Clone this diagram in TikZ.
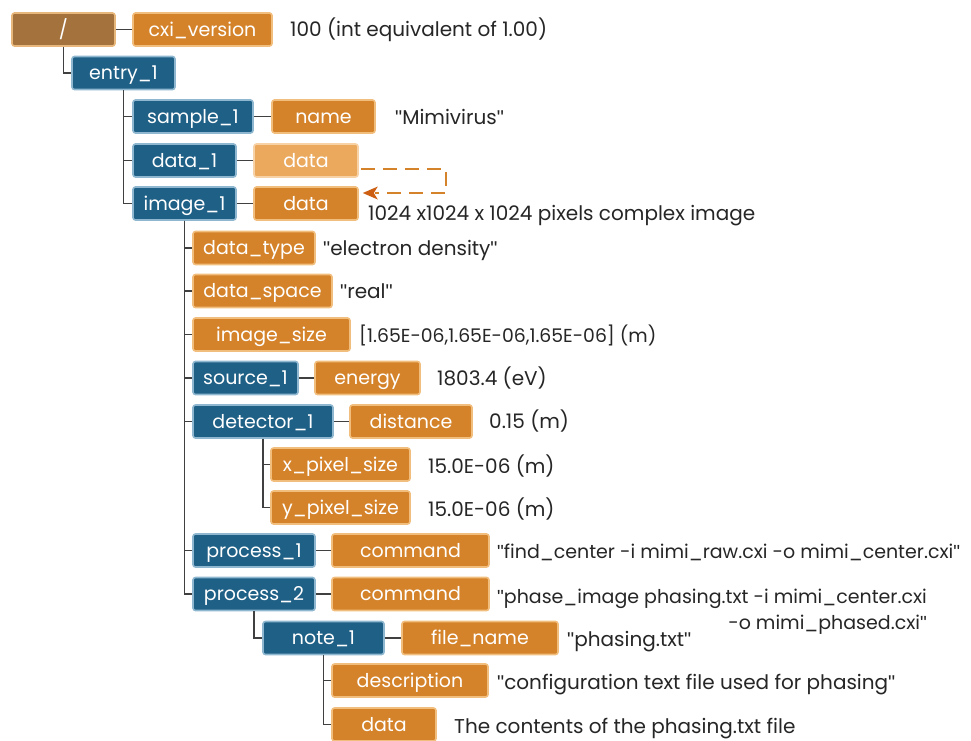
\documentclass[tikz,border=0pt]{standalone}
\usepackage{fontspec}
\setmainfont{Poppins}[Ligatures=ResetAll]
\newfontfamily\quotefont{Liberation Sans}
\newcommand{\dq}{{\quotefont"}}
\usetikzlibrary{arrows.meta,calc}
\definecolor{brownfill}{HTML}{A3723D}
\definecolor{brownedge}{HTML}{E8B77C}
\definecolor{orfill}{HTML}{D4832A}
\definecolor{oredge}{HTML}{F2BE7E}
\definecolor{lofill}{HTML}{EBA95E}
\definecolor{loedge}{HTML}{F6D2A6}
\definecolor{blfill}{HTML}{1F6086}
\definecolor{bledge}{HTML}{8FB7CF}
\definecolor{treeline}{HTML}{404040}
\definecolor{dashcol}{HTML}{D4832A}
\definecolor{arrowcol}{HTML}{CC5F12}
\tikzset{
  box/.style={rounded corners=2.5pt, line width=1.6pt, minimum height=33pt,
    inner sep=0pt, text height=17pt, text depth=4pt, text=white,
    font=\fontsize{19}{22}\selectfont},
  rootbox/.style={box, fill=brownfill, draw=brownedge},
  obox/.style={box, fill=orfill, draw=oredge},
  lobox/.style={box, fill=lofill, draw=loedge},
  bbox/.style={box, fill=blfill, draw=bledge},
  val/.style={anchor=base west, inner sep=0pt, text=black!85,
    font=\fontsize{20}{26}\selectfont},
  vsize/.style={font=\fontsize{#1}{26}\selectfont},
  tree/.style={draw=treeline, line width=1.6pt},
  dasharrow/.style={draw=dashcol, line width=2pt, dash pattern=on 14pt off 8pt}
}
\begin{document}
\begin{tikzpicture}[x=1pt,y=-1pt]
\useasboundingbox (0,0) rectangle (971,740);
\fill[white] (0,0) rectangle (971,740);
% nodes
\node[rootbox, minimum width=103] (root) at (63.5,29.5) {/};
\node[obox, minimum width=139] (cxi) at (202.5,29.5) {cxi\_version};
\node[bbox, minimum width=103] (entry) at (123.5,73) {entry\_1};
\node[bbox, minimum width=120] (sample) at (193,116.5) {sample\_1};
\node[obox, minimum width=103] (name) at (323.5,116.5) {name};
\node[bbox, minimum width=103] (data1) at (184.5,160.5) {data\_1};
\node[lobox, minimum width=104] (datal) at (306,160.5) {data};
\node[bbox, minimum width=103] (image) at (184.5,203.5) {image\_1};
\node[obox, minimum width=104] (datai) at (306,203.5) {data};
\node[obox, minimum width=122] (dtype) at (254,248) {data\_type};
\node[obox, minimum width=139] (dspace) at (262.5,291) {data\_space};
\node[obox, minimum width=157] (isize) at (271.5,334.5) {image\_size};
\node[bbox, minimum width=105] (source) at (245.5,378) {source\_1};
\node[obox, minimum width=105] (energy) at (367.5,378) {energy};
\node[bbox, minimum width=140] (det) at (263,421.5) {detector\_1};
\node[obox, minimum width=122] (dist) at (411,421.5) {distance};
\node[obox, minimum width=139] (xpix) at (340.5,464.5) {x\_pixel\_size};
\node[obox, minimum width=139] (ypix) at (340.5,507.5) {y\_pixel\_size};
\node[bbox, minimum width=122] (proc1) at (254,550.5) {process\_1};
\node[obox, minimum width=157] (cmd1) at (410.5,550.5) {command};
\node[bbox, minimum width=122] (proc2) at (254,594) {process\_2};
\node[obox, minimum width=157] (cmd2) at (410.5,594) {command};
\node[bbox, minimum width=121] (note) at (323.5,638) {note\_1};
\node[obox, minimum width=156] (fname) at (480,638) {file\_name};
\node[obox, minimum width=156] (desc) at (410,680.5) {description};
\node[obox, minimum width=104] (datan) at (384,724.5) {data};
% values
\node[val] (v1) at (290,36) {100 (int equivalent of 1.00)};
\node[val] (v2) at (395,124) {\dq Mimivirus\dq};
\node[val] (v3) at (368,220) {1024 x1024 x 1024 pixels complex image};
\node[val] (v4) at (323,255) {\dq electron density\dq};
\node[val] (v5) at (340,298) {\dq real\dq};
\node[val, vsize=18.8] (v6) at (359,342) {[1.65E-06,1.65E-06,1.65E-06] (m)};
\node[val] (v7) at (437,385) {1803.4 (eV)};
\node[val] (v8) at (489,428) {0.15 (m)};
\node[val] (v9) at (428,473) {15.0E-06 (m)};
\node[val] (v10) at (428,516) {15.0E-06 (m)};
\node[val, vsize=19] (v11) at (497,558) {\dq find\_center -i mimi\_raw.cxi -o mimi\_center.cxi\dq};
\node[val, vsize=19, align=right] (v12) at (497,629) {\dq phase\_image phasing.txt -i mimi\_center.cxi\\-o mimi\_phased.cxi\dq};
\node[val] (v13) at (567,646) {\dq phasing.txt\dq};
\node[val] (v14) at (497,689) {\dq configuration text file used for phasing\dq};
\node[val] (v15) at (454,733) {The contents of the phasing.txt file};
% tree connectors
\draw[tree] (root.south) |- (entry.west);
\draw[tree] (entry.south) |- (sample.west);
\draw[tree] (entry.south) |- (data1.west);
\draw[tree] (entry.south) |- (image.west);
\draw[tree] (image.south) |- (dtype.west);
\draw[tree] (image.south) |- (dspace.west);
\draw[tree] (image.south) |- (isize.west);
\draw[tree] (image.south) |- (source.west);
\draw[tree] (image.south) |- (det.west);
\draw[tree] (image.south) |- (proc1.west);
\draw[tree] (image.south) |- (proc2.west);
\draw[tree] (det.south) |- (xpix.west);
\draw[tree] (det.south) |- (ypix.west);
\draw[tree] (proc2.south) |- (note.west);
\draw[tree] (note.south) |- (desc.west);
\draw[tree] (note.south) |- (datan.west);
\draw[tree] (root.east) -- (cxi.west);
\draw[tree] (sample.east) -- (name.west);
\draw[tree] (data1.east) -- (datal.west);
\draw[tree] (image.east) -- (datai.west);
\draw[tree] (source.east) -- (energy.west);
\draw[tree] (det.east) -- (dist.west);
\draw[tree] (proc1.east) -- (cmd1.west);
\draw[tree] (proc2.east) -- (cmd2.west);
\draw[tree] (note.east) -- (fname.west);
% dashed link
\coordinate (dk) at (446,0);
\draw[dasharrow] ($(datal.east)+(2,8.5)$) -- ($(dk)+(0,169)$) -- ($(dk)+(0,193)$) -- ($(datai.east)+(16,-10.5)$);
\draw[draw=none, fill=arrowcol] ($(datai.east)+(4,-10.5)$) -- ($(datai.east)+(19,-17)$) -- ($(datai.east)+(15,-10.5)$) -- ($(datai.east)+(19,-4)$) -- cycle;
\end{tikzpicture}
\end{document}
